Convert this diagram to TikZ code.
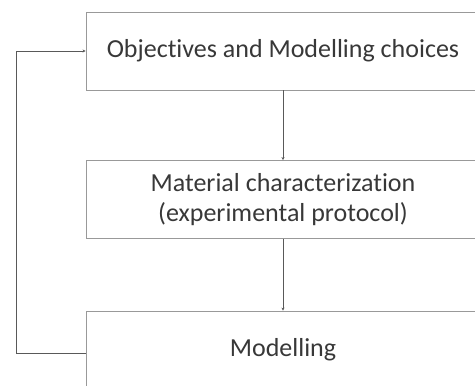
\documentclass[tikz,border=0pt]{standalone}
\usepackage{fontspec}
\setmainfont[Ligatures=NoCommon]{Carlito}
\usetikzlibrary{arrows.meta}
\tikzset{stagebox/.style = {draw=black!40, line width=.9pt, minimum width=394pt, minimum height=78pt,
    inner sep=0pt, align=center, text=black!78, font=\fontsize{26}{30}\selectfont},
  feed/.style = {draw=black!65, line width=.7pt, -{Stealth[length=3pt,width=3pt]}}}

\begin{document}
\begin{tikzpicture}[x=1pt, y=-1pt]
        \useasboundingbox (0,0) rectangle (475,386);
        \node[stagebox] (objectives) at (283,51) {Objectives and Modelling choices};
        \node[stagebox] (material) at (283,199.5) {Material characterization\\(experimental protocol)};
        \node[stagebox] (modelling) at (283,350) {Modelling};
        \coordinate (back) at (16,0);
        % vertical chain
        \draw[feed] (objectives) -- (material);
        \draw[feed] (material) -- (modelling);
        % loop back to the top
        \draw[feed] ([yshift=-3pt]modelling.west) -| ([yshift=-3pt]modelling.west -| back)
          |- (objectives.west);
      \end{tikzpicture}
\end{document}
